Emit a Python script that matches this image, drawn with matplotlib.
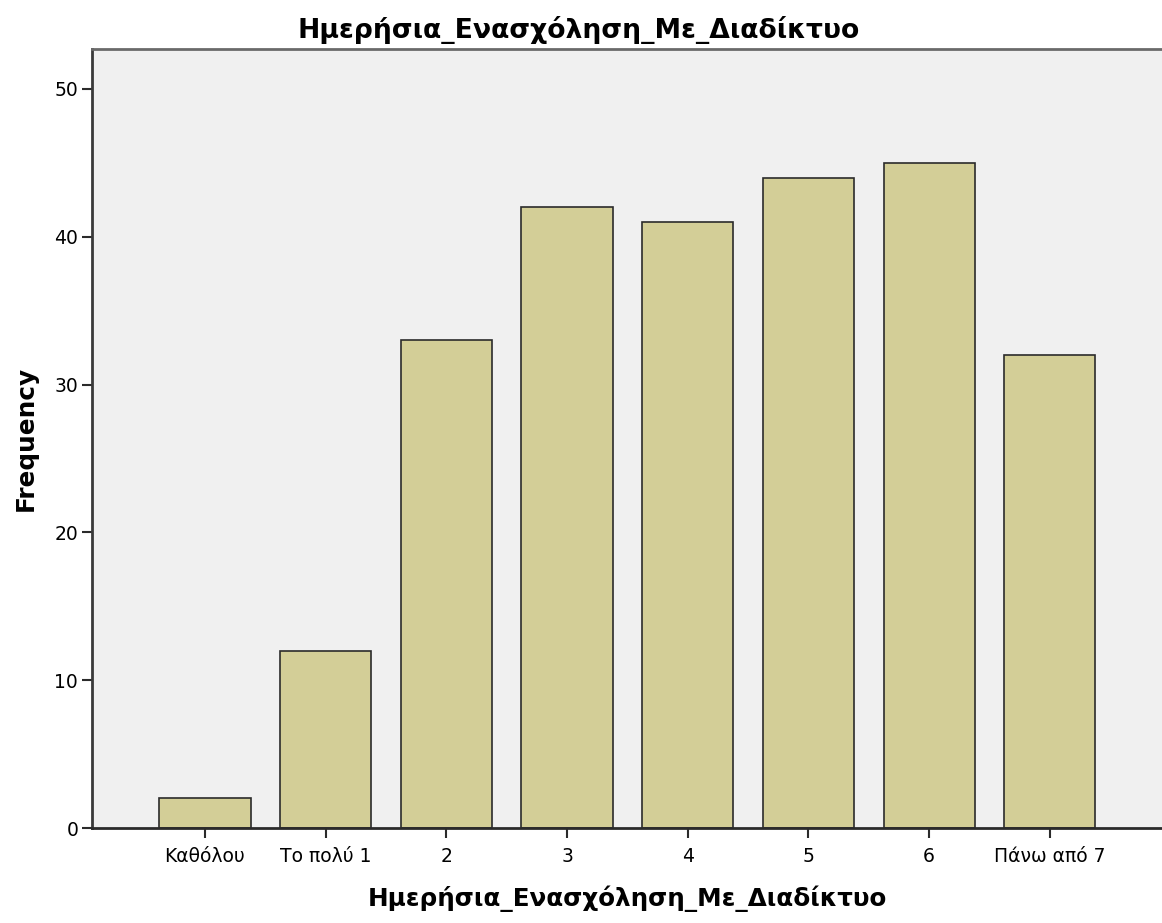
import numpy as np
import matplotlib.pyplot as plt

plt.rcParams['font.family'] = ['DejaVu Sans']

categories = ['Καθόλου', 'Το πολύ 1', '2', '3', '4', '5', '6', 'Πάνω από 7']
counts = [2, 12, 33, 42, 41, 44, 45, 32]
yticks = [0, 10, 20, 30, 40, 50]
title = 'Ημερήσια_Ενασχόληση_Με_Διαδίκτυο'

fig = plt.figure(figsize=(11.62, 9.23), dpi=100)
ax = fig.add_axes([0.0792, 0.1029, 0.9208, 0.844])
ax.set_facecolor('#F0F0F0')

x = np.arange(len(categories))
ax.bar(x, counts, width=0.755, color='#D3CE97', edgecolor='#2b2b2b', linewidth=1.2, zorder=2)

ax.set_xlim(-0.936, 7.93)
ax.set_ylim(0, 52.7)
ax.set_xticks(x)
ax.set_xticklabels(categories, fontsize=13.5)
ax.set_yticks(yticks)
ax.tick_params(axis='y', labelsize=13.5, length=7, width=1.5, color='#2b2b2b', pad=3)
ax.tick_params(axis='x', length=7, width=1.5, color='#2b2b2b', pad=7)

ax.spines['right'].set_visible(False)
ax.spines['left'].set_linewidth(2)
ax.spines['left'].set_color('#3a3a3a')
ax.spines['bottom'].set_linewidth(2)
ax.spines['bottom'].set_color('#2b2b2b')
ax.spines['top'].set_linewidth(2)
ax.spines['top'].set_color('#6a6a6a')

fig.text(0.498, 0.967, title, fontsize=19.2, fontweight='bold', ha='center', va='center')
ax.set_xlabel(title, fontsize=17.7, fontweight='bold', labelpad=14)
ax.set_ylabel('Frequency', fontsize=17.8, fontweight='bold', labelpad=12)

fig.savefig('out.png', dpi=100)
